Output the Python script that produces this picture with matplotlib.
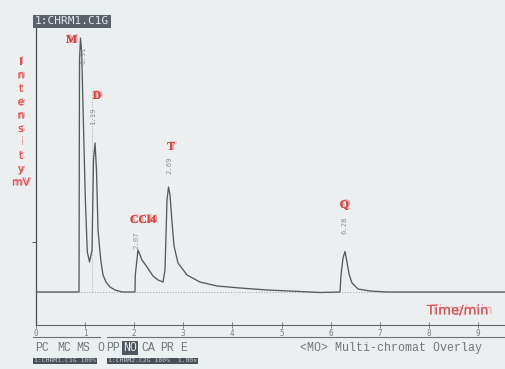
import matplotlib
matplotlib.use('Agg')
import matplotlib.pyplot as plt
import matplotlib.patheffects as pe

# ---------------- data ----------------
trace_t = [0.0, 0.876, 0.886, 0.906, 0.930, 0.965, 1.005, 1.045, 1.090, 1.141, 1.171,
           1.202, 1.232, 1.263, 1.303, 1.324, 1.365, 1.426, 1.507, 1.609, 1.752,
           2.016, 2.022, 2.077, 2.159, 2.261, 2.383, 2.485, 2.587, 2.627, 2.668,
           2.699, 2.729, 2.770, 2.811, 2.892, 3.075, 3.340, 3.686, 4.155, 4.705,
           5.377, 5.784, 6.191, 6.212, 6.253, 6.293, 6.334, 6.375, 6.436, 6.558,
           6.802, 7.149, 9.572]
trace_mv = [0, 0, 232, 254, 240, 170, 92, 40, 30, 42, 132,
            149, 122, 62, 40, 30, 17, 10, 5, 2, 0,
            0, 17, 42, 32, 25, 16, 12, 10, 22, 92,
            105, 97, 70, 46, 29, 17, 10, 6, 4, 2,
            0.5, -0.5, 0, 17, 34, 40.5, 30, 18, 9, 3,
            1, 0, 0]

peak_names = ['M', 'D', 'CCl4', 'T', 'Q']
peak_rt = [0.91, 1.19, 2.07, 2.69, 6.28]
peak_rt_labels = ['0.91', '1.19', '2.07', '2.69', '6.28']
peak_heights = [254, 149, 42, 105, 40.5]

x_ticks = [0, 1, 2, 3, 4, 5, 6, 7, 8, 9]
ylabel_letters = ['I', 'n', 't', 'e', 'n', 's', 'i', 't', 'y', 'mV']
menu_tokens = ['PC', 'MC', 'MS', 'O', 'PP', 'NO', 'CA', 'PR', 'E']

# ---------------- figure ----------------
W, H = 506, 369
fig = plt.figure(figsize=(W / 100, H / 100), dpi=100)
bg = '#eceff0'
fig.patch.set_facecolor(bg)
ax = fig.add_axes([36 / W, (H - 325) / H, (W - 36) / W, (325 - 18) / H])
ax.set_facecolor(bg)
ax.set_xlim(0, 9.572)
ax.set_ylim(-33, 274)

for s in ['top', 'right']:
    ax.spines[s].set_visible(False)
ax.spines['left'].set_color('#4a4f55')
ax.spines['left'].set_linewidth(0.9)
ax.spines['bottom'].set_color('#5f656b')
ax.spines['bottom'].set_linewidth(0.8)

ax.set_xticks(x_ticks)
ax.set_xticklabels([str(v) for v in x_ticks], fontsize=5.5, color='#7a8086',
                   family='DejaVu Sans Mono')
ax.tick_params(axis='x', direction='inout', length=5, width=0.6, colors='#6a7076',
               pad=0.5, labelcolor='#7a8086')
ax.set_yticks([50])
ax.set_yticklabels([''])
ax.tick_params(axis='y', direction='out', length=3, width=0.7, colors='#4a4f55')

# dotted baseline
ax.axhline(0, color='#a9b0b6', lw=0.8, ls=(0, (1, 1.5)), zorder=1)
# dotted retention marker for D
ax.plot([1.141, 1.141], [0, 200], color='#a9b0b6', lw=0.7, ls=(0, (1, 1.5)), zorder=1)

# trace
ax.plot(trace_t, trace_mv, color='#545a60', lw=0.95, zorder=3)

red = '#d2474a'
red_light = '#eaa0a0'


def ghost(c, dx, dy):
    return [pe.withSimplePatchShadow(offset=(dx, dy), shadow_rgbFace=c, alpha=1.0),
            pe.Normal()]


# peak name labels (offsets in minutes / mV relative to peaks)
name_off = [(-0.19, -2), (0.05, 47), (0.11, 30), (0.06, 40), (0.0, 46.5)]
rt_off = [(0.05, -17), (-0.03, 27), (-0.02, 10), (0.02, 22), (0.0, 26)]
for name, rt, lab, h, no, ro in zip(peak_names, peak_rt, peak_rt_labels, peak_heights,
                                    name_off, rt_off):
    ax.text(rt + no[0], h + no[1], name, fontsize=8.5, fontweight='bold',
            family='Liberation Serif', color=red, ha='center', va='center', zorder=5,
            path_effects=ghost(red_light, 1.4, 0.6))
    ax.text(rt + ro[0], h + ro[1], lab, rotation=90, fontsize=5.2, color='#8d9399',
            family='DejaVu Sans Mono', ha='center', va='center', zorder=4)

# y label, stacked letters
for i, ch in enumerate(ylabel_letters):
    y = 1 - (62 + i * 13.4) / H
    fig.text(21 / W, y, ch, fontsize=7.8, family='DejaVu Sans', color='#d25a5c',
             ha='center', va='center', path_effects=ghost('#eaa5a5', 1.2, 0.5))

# x label
fig.text(458 / W, 1 - 311 / H, 'Time/min', fontsize=9.5, family='DejaVu Sans',
         color='#d25a5c', ha='center', va='center',
         path_effects=ghost('#eaa5a5', 3.0, 0.4))

# title box
fig.text(35 / W, 1 - 21.5 / H, '1:CHRM1.C1G', fontsize=8, family='DejaVu Sans Mono',
         color='#e6e9eb', ha='left', va='center',
         bbox=dict(boxstyle='square,pad=0.15', fc='#59606a', ec='none'))

# lower ruler line
ax.plot([-0.06, 1.30], [-45, -45], color='#6a7076', lw=0.8, clip_on=False)
ax.plot([1.45, 9.572], [-45, -45], color='#6a7076', lw=0.8, clip_on=False)

# menu row
menu_x = [35, 57, 76, 97, 106, 123, 141, 160, 180]
for tok, mx in zip(menu_tokens, menu_x):
    if tok == 'NO':
        fig.text(mx / W, 1 - 348 / H, tok, fontsize=8.3, family='Liberation Mono',
                 color='#eceff0', ha='left', va='center',
                 bbox=dict(boxstyle='square,pad=0.1', fc='#4f565e', ec='none'))
    else:
        fig.text(mx / W, 1 - 348 / H, tok, fontsize=8.3, family='Liberation Mono',
                 color='#70767c', ha='left', va='center')
fig.text(300 / W, 1 - 348 / H, '<MO> Multi-chromat Overlay', fontsize=8.4,
         family='Liberation Mono', color='#70767c', ha='left', va='center')

# status bars
fig.text(34 / W, 1 - 361 / H, '1:CHRM1.C1G 100%', fontsize=4.6, family='DejaVu Sans Mono',
         color='#c9cdd1', ha='left', va='center',
         bbox=dict(boxstyle='square,pad=0.15', fc='#4a5058', ec='none'))
fig.text(108 / W, 1 - 361 / H, '1:CHRM2.C2G 100%  1.00x', fontsize=4.6,
         family='DejaVu Sans Mono', color='#c9cdd1', ha='left', va='center',
         bbox=dict(boxstyle='square,pad=0.15', fc='#4a5058', ec='none'))

fig.savefig('out.png', dpi=100, facecolor=bg)
